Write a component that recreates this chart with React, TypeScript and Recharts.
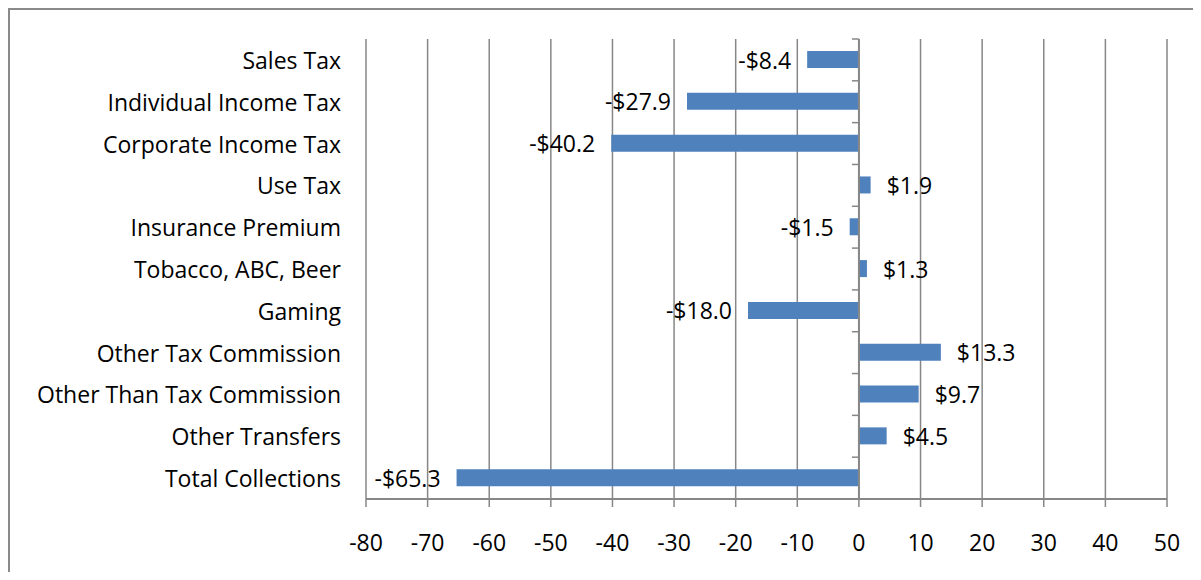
import { BarChart, Bar, XAxis, YAxis, CartesianGrid, ReferenceLine, LabelList } from "recharts";

const categories = [
  "Sales Tax",
  "Individual Income Tax",
  "Corporate Income Tax",
  "Use Tax",
  "Insurance Premium",
  "Tobacco, ABC, Beer",
  "Gaming",
  "Other Tax Commission",
  "Other Than Tax Commission",
  "Other Transfers",
  "Total Collections",
];

const changes = [-8.4, -27.9, -40.2, 1.9, -1.5, 1.3, -18.0, 13.3, 9.7, 4.5, -65.3];

const xTicks = [-80, -70, -60, -50, -40, -30, -20, -10, 0, 10, 20, 30, 40, 50];

const data = categories.map((name, i) => ({ name, value: changes[i] }));

const FONT = "'Open Sans', sans-serif";
const FS = 23;
const GRID = "#878787";

const fmt = (v: number) => (v < 0 ? "-$" + Math.abs(v).toFixed(1) : "$" + v.toFixed(1));

const CategoryTick = (props: any) => {
  const { x, y, payload } = props;
  return (
    <text x={x - 25} y={y} textAnchor="end" dominantBaseline="central" fontSize={FS} fontFamily={FONT} fill="#000">
      {payload.value}
    </text>
  );
};

const ValueLabel = (props: any) => {
  const { x, y, width, height, value } = props;
  const left = Math.min(x, x + width);
  const right = Math.max(x, x + width);
  const neg = value < 0;
  return (
    <text
      x={neg ? left - 16 : right + 16}
      y={y + height / 2}
      textAnchor={neg ? "end" : "start"}
      dominantBaseline="central"
      fontSize={FS}
      fontFamily={FONT}
      fill="#000"
    >
      {fmt(value)}
    </text>
  );
};

// zero axis with Excel-style tick marks between categories
const ZeroAxis = (props: any) => {
  const { x1, y1, x2, y2 } = props;
  const top = Math.min(y1, y2);
  const bottom = Math.max(y1, y2);
  const step = (bottom - top) / categories.length;
  const marks = [];
  for (let i = 0; i <= categories.length; i++) {
    const yy = top + i * step;
    marks.push(<line key={i} x1={x1 - 7} y1={yy} x2={x1} y2={yy} stroke={GRID} strokeWidth={1.5} />);
  }
  return (
    <g>
      <line x1={x1} y1={top} x2={x2} y2={bottom} stroke={GRID} strokeWidth={2} />
      {marks}
    </g>
  );
};

export default function App() {
  return (
    <div
      style={{
        width: 1185,
        height: 564,
        boxSizing: "border-box",
        borderTop: "2px solid #8a8a8a",
        borderLeft: "2px solid #8a8a8a",
        overflow: "hidden",
      }}
    >
      <BarChart
        width={1183}
        height={562}
        data={data}
        layout="vertical"
        margin={{ top: 29, right: 26, bottom: 13, left: 0 }}
      >
        <CartesianGrid horizontal={false} stroke={GRID} strokeWidth={1.5} />
        <XAxis
          type="number"
          domain={[-80, 50]}
          ticks={xTicks}
          interval={0}
          height={60}
          axisLine={{ stroke: GRID, strokeWidth: 2 }}
          tickLine={{ stroke: GRID, strokeWidth: 1.5 }}
          tickSize={8}
          tickMargin={28}
          tick={{ fontSize: FS, fontFamily: FONT, fill: "#000" }}
        />
        <YAxis
          type="category"
          dataKey="name"
          width={356}
          axisLine={false}
          tickLine={false}
          tickSize={0}
          tickMargin={0}
          interval={0}
          tick={<CategoryTick />}
        />
        <Bar dataKey="value" fill="#4F81BD" barSize={17} isAnimationActive={false}>
          <LabelList dataKey="value" content={<ValueLabel />} />
        </Bar>
        <ReferenceLine x={0} shape={<ZeroAxis />} />
      </BarChart>
    </div>
  );
}
